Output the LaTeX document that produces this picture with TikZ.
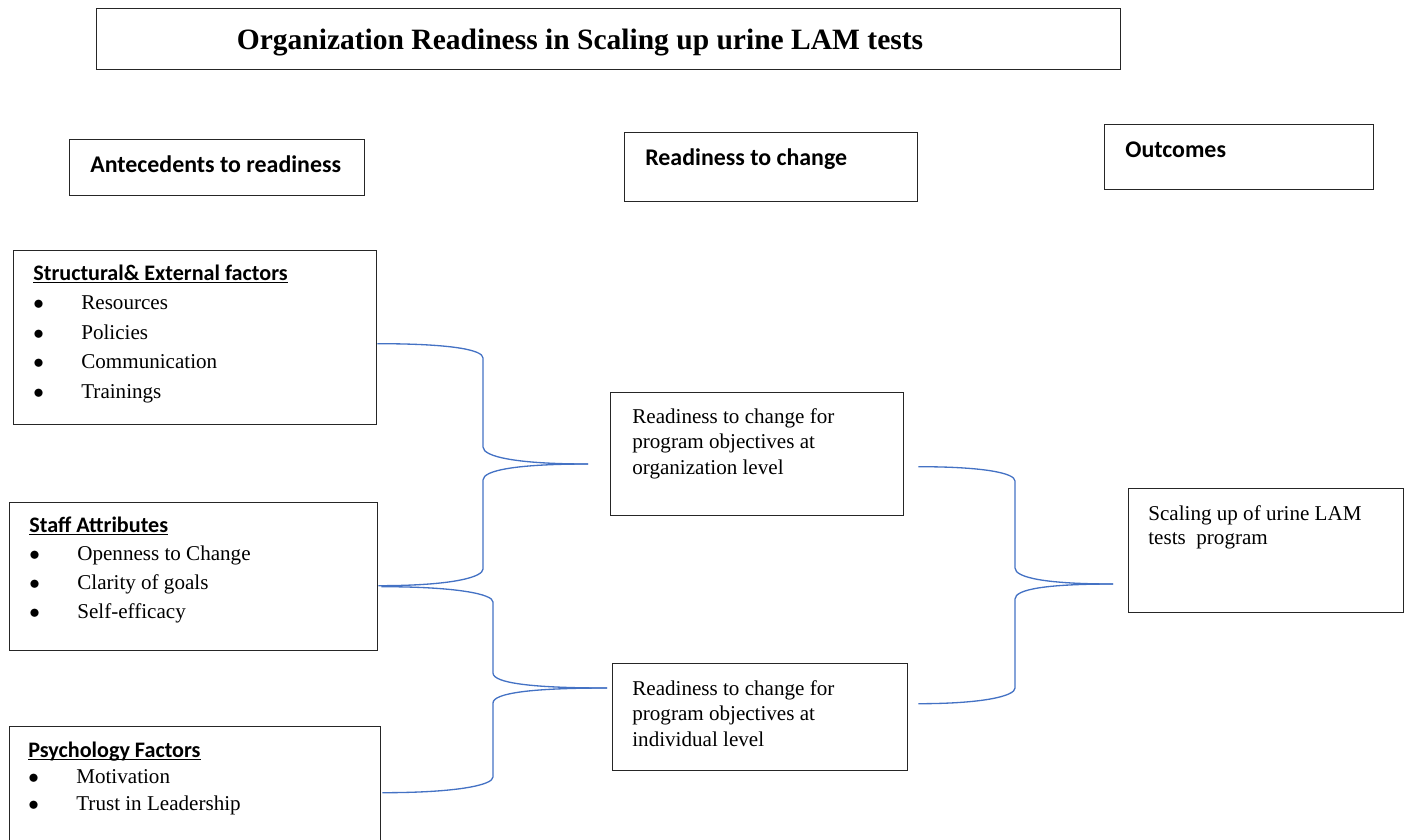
\documentclass[tikz,border=0pt]{standalone}
\usepackage{fontspec}
\setmainfont{Liberation Serif}
\newfontfamily\headfont{Carlito}
\usetikzlibrary{calc}

\definecolor{linkblue}{RGB}{68,114,196}

\tikzset{
  box/.style={draw=black!85, line width=0.8pt, rectangle, inner sep=0pt, anchor=north west},
  txt/.style={anchor=base west, inner sep=0pt},
  head/.style={anchor=base west, inner sep=0pt, font=\headfont\bfseries\fontsize{13.6}{16}\selectfont},
  link/.style={draw=linkblue, line width=0.75pt},
}
\newcommand{\bul}{\makebox[0.96cm][l]{$\bullet$}}
\newcommand{\ulhead}[1]{\leavevmode\setbox0\hbox{#1}\rlap{\rule[-1.7pt]{\wd0}{0.65pt}}\box0}
\newcommand{\listhead}[1]{{\headfont\bfseries\fontsize{12.6}{14}\selectfont\ulhead{#1}}}

\begin{document}
\begin{tikzpicture}[x=0.02cm,y=-0.02cm]
        \useasboundingbox (0,0) rectangle (1409,839);
        % boxes
        \node[box, minimum width=20.48cm, minimum height=1.22cm] (title) at (96,8) {};
        \node[box, minimum width=5.90cm, minimum height=1.12cm] (ante) at (69,139) {};
        \node[box, minimum width=5.86cm, minimum height=1.38cm] (rtc) at (624,132) {};
        \node[box, minimum width=5.38cm, minimum height=1.30cm] (outc) at (1104,124) {};
        \node[box, minimum width=7.26cm, minimum height=3.48cm] (struct) at (13,250) {};
        \node[box, minimum width=7.36cm, minimum height=2.96cm] (staff) at (9,502) {};
        \node[box, minimum width=7.42cm, minimum height=2.80cm] (psych) at (9,726) {};
        \node[box, minimum width=5.86cm, minimum height=2.46cm] (org) at (610,392) {};
        \node[box, minimum width=5.90cm, minimum height=2.14cm] (indiv) at (612,663) {};
        \node[box, minimum width=5.50cm, minimum height=2.48cm] (scal) at (1128,488) {};
        % texts
        \node[anchor=base, inner sep=0pt, font=\bfseries\fontsize{16.8}{20}\selectfont] (titleText) at (580,49) {Organization Readiness in Scaling up urine LAM tests};
        \node[head] (anteText) at (90,172) {Antecedents to readiness};
        \node[head] (rtcText) at (645,165) {Readiness to change};
        \node[head] (outcText) at (1125,157) {Outcomes};
        \node[txt] (structText) at (33,280) {\parbox[t]{7cm}{\fontsize{12}{16.8}\selectfont
          \listhead{Structural\& External factors}\\
          \bul Resources\\ \bul Policies\\ \bul Communication\\ \bul Trainings}};
        \node[txt] (staffText) at (29,532) {\parbox[t]{7cm}{\fontsize{12}{16.4}\selectfont
          \listhead{Staff Attributes}\\
          \bul Openness to Change\\ \bul Clarity of goals\\ \bul Self-efficacy}};
        \node[txt] (psychText) at (28,757) {\parbox[t]{7cm}{\fontsize{12}{15.3}\selectfont
          \listhead{Psychology Factors}\\
          \bul Motivation\\ \bul Trust in Leadership}};
        \node[txt] (orgText) at (632,423) {\parbox[t]{5.6cm}{\fontsize{12}{14.7}\selectfont
          Readiness to change for\\ program objectives at\\ organization level}};
        \node[txt] (indivText) at (632,695) {\parbox[t]{5.6cm}{\fontsize{12}{14.7}\selectfont
          Readiness to change for\\ program objectives at\\ individual level}};
        \node[txt] (scalText) at (1148,520) {\parbox[t]{5.2cm}{\fontsize{12}{13.9}\selectfont
          Scaling up of urine LAM\\ tests\ \ program}};
        % brace tips
        \coordinate (orgTip) at (588,464);
        \coordinate (indTip) at (607,688);
        \coordinate (outTip) at (1113,584);
        % connectors
        \draw[link] (struct.east) ++(0,6) .. controls +(75,0) and +(0,-8) .. (483,358) -- (483,447) .. controls +(0,10) and +(-70,0) .. (orgTip);
        \draw[link] (staff.east) ++(0,9) .. controls +(75,0) and +(0,8) .. (483,569) -- (483,480) .. controls +(0,-10) and +(-70,0) .. (orgTip);
        \draw[link] (staff.east) ++(3,10) .. controls +(75,0) and +(0,-8) .. (493,602) -- (493,673) .. controls +(0,10) and +(-75,0) .. (indTip);
        \draw[link] (psych.east) ++(1,-4) .. controls +(75,0) and +(0,8) .. (493,777) -- (493,703) .. controls +(0,-10) and +(-75,0) .. (indTip);
        \draw[link] (org.east) ++(14,12.5) .. controls +(65,0) and +(0,-8) .. (1015,481) -- (1015,568) .. controls +(0,10) and +(-65,0) .. (outTip);
        \draw[link] (indiv.east) ++(10,-13.5) .. controls +(65,0) and +(0,8) .. (1015,688) -- (1015,599) .. controls +(0,-10) and +(-65,0) .. (outTip);
\end{tikzpicture}
\end{document}
